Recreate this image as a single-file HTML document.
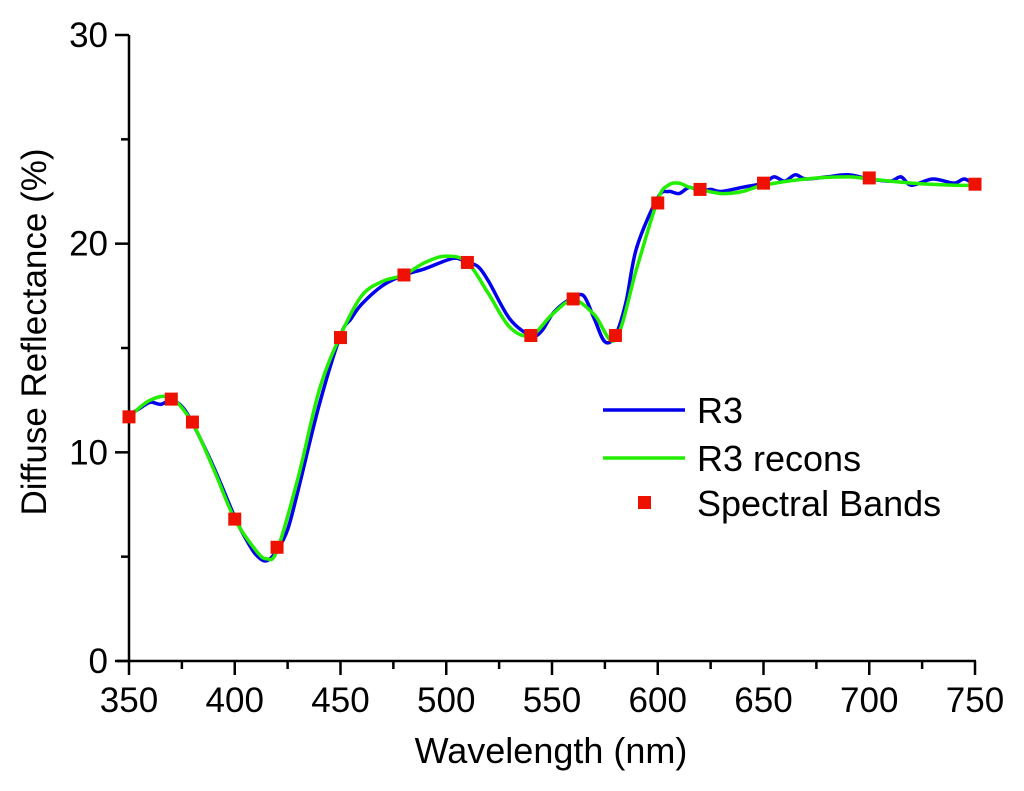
<!DOCTYPE html>
<html><head><meta charset="utf-8"><style>
body{margin:0;background:#fff}
svg{display:block;font-family:"Liberation Sans",Arial,sans-serif}
</style></head><body>
<svg id="chart" width="1024" height="791" viewBox="0 0 1024 791">
<g id="axes"></g>
<g id="plot"></g>
<text x="551" y="763" font-size="36" text-anchor="middle">Wavelength (nm)</text>
<text transform="translate(46,332) rotate(-90)" font-size="35" text-anchor="middle">Diffuse Reflectance (%)</text>
<g>
<g><line x1="603" y1="410" x2="685" y2="410" stroke="#0000ee" stroke-width="3.5"/><text x="697" y="423" font-size="36">R3</text></g>
<g><line x1="603" y1="458" x2="685" y2="458" stroke="#22ee00" stroke-width="3.5"/><text x="697" y="471" font-size="36">R3 recons</text></g>
<g><rect x="638" y="496" width="13" height="13" fill="#ee1100"/><text x="697" y="516" font-size="36">Spectral Bands</text></g>
</g>
</svg>
<script>
const measuredX=[350,355,360,365,370,375,380,390,400,405,410,415,420,425,430,440,450,455,460,470,480,490,500,505,510,515,520,530,540,545,550,555,560,565,570,575,580,585,590,600,605,610,615,620,625,630,640,650,655,660,665,670,680,690,700,710,715,720,730,740,745,750];
const measuredY=[11.8,12.1,12.4,12.3,12.5,12.2,11.4,9.3,6.9,5.9,5.1,4.8,5.3,6.3,8.2,12.3,15.6,16.4,17.1,18.0,18.5,18.8,19.2,19.3,19.1,18.9,18.2,16.4,15.6,15.8,16.6,17.1,17.4,17.5,16.4,15.3,15.6,17.2,19.8,22.2,22.5,22.4,22.7,22.5,22.6,22.5,22.7,22.9,23.2,23.0,23.3,23.1,23.2,23.3,23.1,23.0,23.2,22.8,23.1,22.9,23.1,22.8];
const reconX=[350,360,370,380,390,400,410,415,420,430,440,450,460,470,480,490,500,510,520,530,540,550,560,570,580,590,600,605,610,615,620,630,640,650,670,690,700,720,740,750];
const reconY=[11.7,12.5,12.6,11.4,9.2,6.8,5.3,4.9,5.3,8.8,13.0,15.6,17.5,18.2,18.5,19.1,19.4,19.1,17.6,16.0,15.6,16.6,17.3,16.6,15.4,18.8,22.1,22.8,22.9,22.7,22.6,22.4,22.5,22.8,23.1,23.2,23.1,22.9,22.8,22.8];
const bandX=[350,370,380,400,420,450,480,510,540,560,580,600,620,650,700,750];
const bandY=[11.7,12.55,11.45,6.8,5.45,15.5,18.5,19.1,15.6,17.35,15.6,21.95,22.6,22.9,23.15,22.85];
const xTicks=[350,400,450,500,550,600,650,700,750];
const yTicks=[0,10,20,30];
const NS='http://www.w3.org/2000/svg';
const sx=v=>129+(v-350)*(975-129)/400;
const sy=v=>661-v*(661-35)/30;
function mk(parent,tag,attrs){const e=document.createElementNS(NS,tag);for(const k in attrs)e.setAttribute(k,attrs[k]);parent.appendChild(e);return e;}
const axes=document.getElementById('axes'),plot=document.getElementById('plot');
let a=mk(axes,'line',{x1:129,y1:35,x2:129,y2:661,stroke:'#000','stroke-width':2.5});


a=mk(axes,'line',{x1:117,y1:661,x2:976,y2:661,stroke:'#000','stroke-width':2.5});


for(let i=0;i<yTicks.length;i++){const v=yTicks[i];
 const t=mk(axes,'line',{x1:115,y1:sy(v),x2:129,y2:sy(v),stroke:'#000','stroke-width':2.5});
 
 
 const l=mk(axes,'text',{x:108,y:sy(v)+12,'font-size':35,'text-anchor':'end'});l.textContent=v;
 
 
 if(i<yTicks.length-1){const m=mk(axes,'line',{x1:121,y1:sy(v+5),x2:129,y2:sy(v+5),stroke:'#000','stroke-width':2.5});
 
 }
}
for(let i=0;i<xTicks.length;i++){const v=xTicks[i];
 const t=mk(axes,'line',{x1:sx(v),y1:661,x2:sx(v),y2:675,stroke:'#000','stroke-width':2.5});
 
 
 const l=mk(axes,'text',{x:sx(v),y:712,'font-size':35,'text-anchor':'middle'});l.textContent=v;
 
 
 if(i<xTicks.length-1){const m=mk(axes,'line',{x1:sx(v+25),y1:661,x2:sx(v+25),y2:669,stroke:'#000','stroke-width':2.5});
 
 }
}
function smooth(xs,ys){const p=xs.map((x,i)=>[sx(x),sy(ys[i])]);let d='M'+p[0][0]+','+p[0][1];
 for(let i=0;i<p.length-1;i++){const p0=p[Math.max(0,i-1)],p1=p[i],p2=p[i+1],p3=p[Math.min(p.length-1,i+2)];
 d+=' C'+(p1[0]+(p2[0]-p0[0])/6)+','+(p1[1]+(p2[1]-p0[1])/6)+' '+(p2[0]-(p3[0]-p1[0])/6)+','+(p2[1]-(p3[1]-p1[1])/6)+' '+p2[0]+','+p2[1];}
 return d;}
const m1=mk(plot,'path',{d:smooth(measuredX,measuredY),fill:'none',stroke:'#0000ee','stroke-width':3.5});


const m2=mk(plot,'path',{d:smooth(reconX,reconY),fill:'none',stroke:'#22ee00','stroke-width':3.5});


for(let i=0;i<bandX.length;i++){
 const r=mk(plot,'rect',{x:sx(bandX[i])-6.5,y:sy(bandY[i])-6.5,width:13,height:13,fill:'#ee1100'});
 
 
}
</script>
</body></html>
